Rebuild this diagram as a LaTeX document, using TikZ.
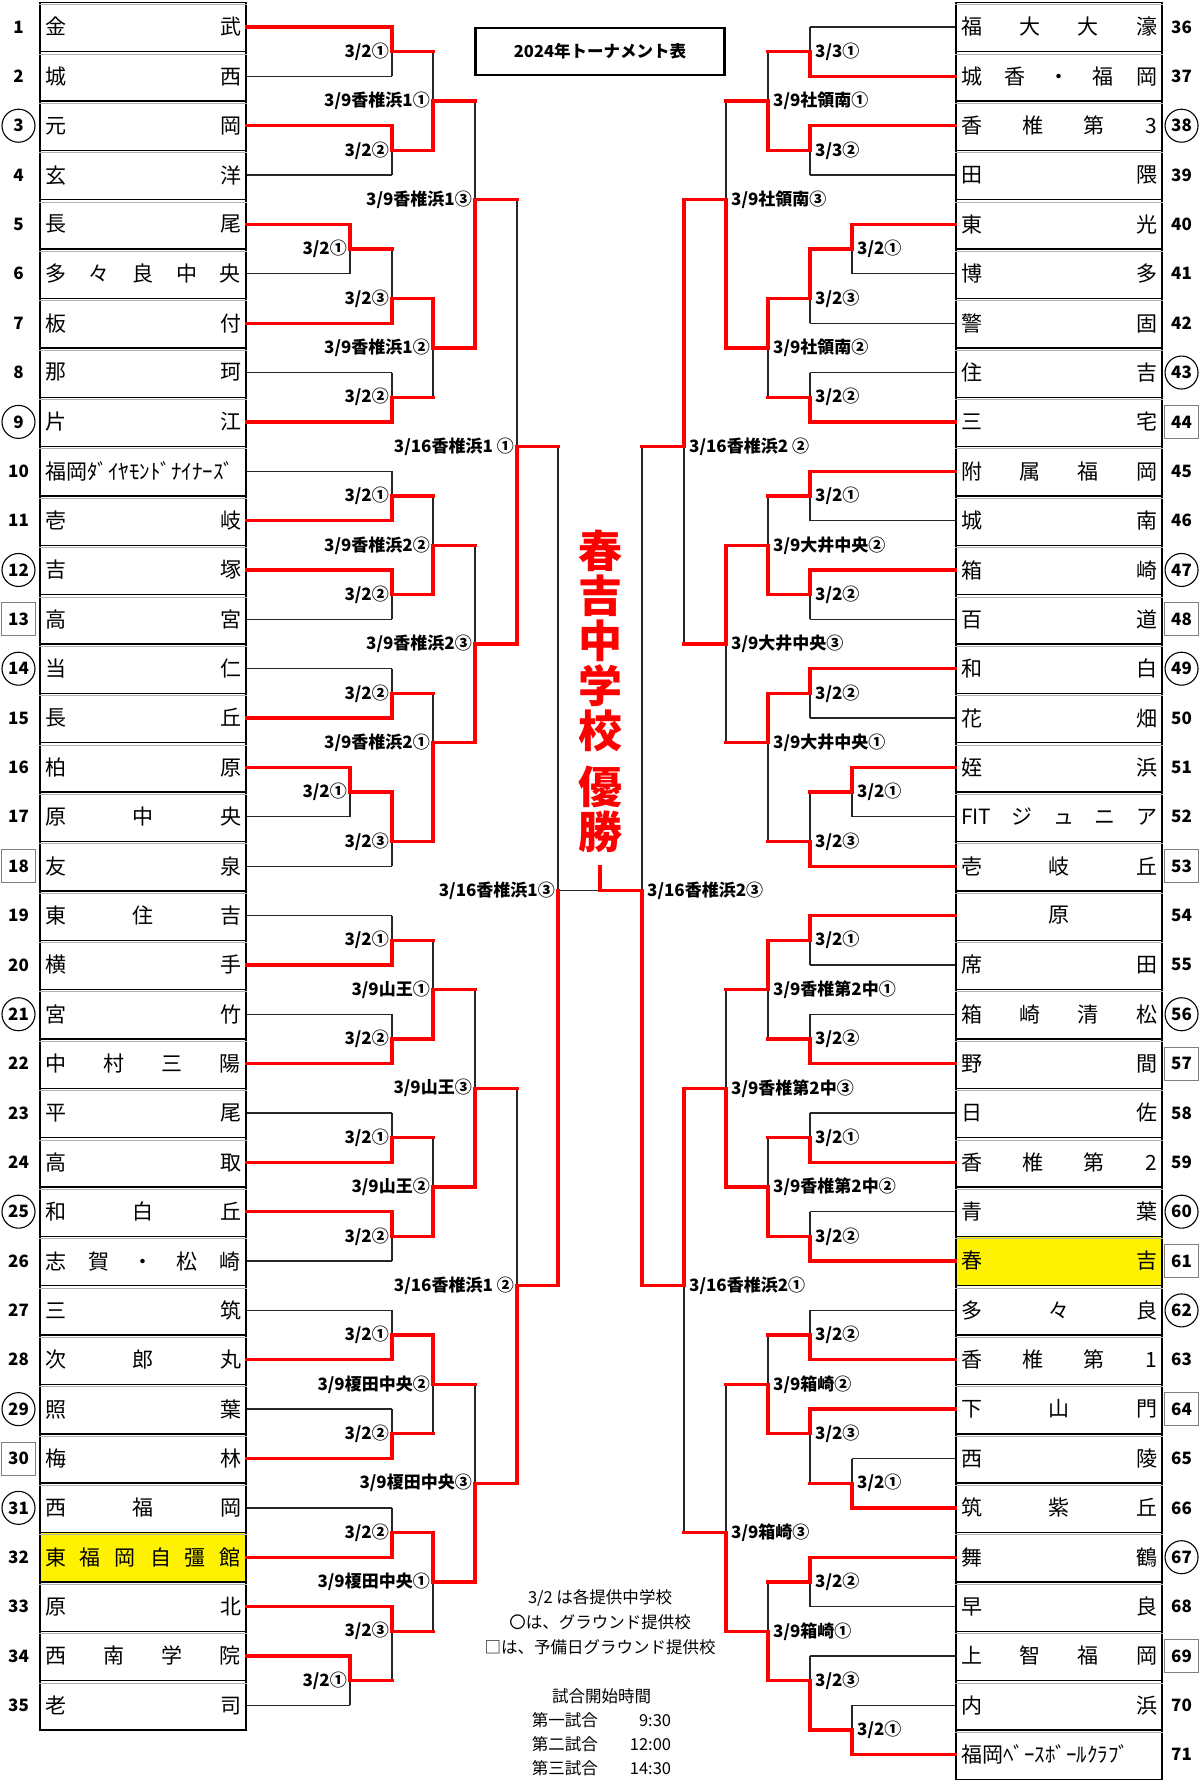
\documentclass[tikz,border=0pt]{standalone}
\usepackage{fontspec}
\setmainfont{Noto Sans CJK JP}
\pgfdeclarelayer{front}
\pgfsetlayers{main,front}

% spread the characters of a team name over the cell
\def\teamstop{\teamstop}
\def\teamstopmark{\teamstop}
\def\teamspread#1{#1\teamspreadnext}
\def\teamspreadnext#1{\def\teamtmp{#1}\ifx\teamtmp\teamstopmark\else\hfill#1\expandafter\teamspreadnext\fi}
\newcommand\teamfit{FIT}

\tikzset{
  team/.style={draw, line width=1.4pt, minimum width=206pt, minimum height=49.36pt, inner sep=0pt, font=\fontsize{21}{21}\selectfont},
  rowln/.style={gray!60, line width=0.8pt},
  nump/.style={font=\bfseries\fontsize{17}{17}\selectfont, inner sep=0pt},
  numc/.style={nump, draw, circle, line width=1.1pt, minimum size=33pt},
  numb/.style={nump, draw=gray, rectangle, line width=0.9pt, minimum width=34pt, minimum height=33pt},
  thinln/.style={line width=1.3pt, black!85},
  redln/.style={line width=3.3pt, red, line cap=rect},
  ll/.style={anchor=east, xshift=-3pt, inner sep=0pt, font=\bfseries\fontsize{17}{17}\selectfont},
  rl/.style={anchor=west, xshift=5pt, inner sep=0pt, font=\bfseries\fontsize{17}{17}\selectfont},
  titlebox/.style={draw, line width=2.6pt, minimum width=249pt, minimum height=47pt, font=\bfseries\fontsize{16.5}{16.5}\selectfont},
  winnertext/.style={anchor=north, align=center, inner sep=0pt, text=red, font=\bfseries\fontsize{44}{45}\selectfont},
  note/.style={align=center, inner sep=0pt, font=\fontsize{16.5}{25}\selectfont},
}

% #1 label style, #2 name, #3 x, #4 half row, #5 winner, #6 loser, #7 loser line, #8 label
\newcommand\game[8]{%
  \coordinate (#2) at (#3,#4);
  \draw[thinln] (#6 -| #2) -- (#2);
  \begin{pgfonlayer}{front}
    \draw[#7] (#6) -- (#6 -| #2);
    \draw[redln] (#5) -| (#2);
  \end{pgfonlayer}
  \node[#1] (#2-lbl) at (#2) {#8};
}

\begin{document}
\begin{tikzpicture}[x=1pt,y=-24.68pt]
\useasboundingbox (0,-1.094) rectangle (1200,71.27);

% left teams
\foreach \n/\nm/\mk/\fl [count=\i from 0] in {
  1/金武/p/white, 2/城西/p/white, 3/元岡/c/white, 4/玄洋/p/white,
  5/長尾/p/white, 6/多々良中央/p/white, 7/板付/p/white, 8/那珂/p/white,
  9/片江/c/white, 10/{{福岡ﾀﾞｲﾔﾓﾝﾄﾞﾅｲﾅｰｽﾞ}}/p/white, 11/壱岐/p/white,
  12/吉塚/c/white, 13/高宮/b/white, 14/当仁/c/white, 15/長丘/p/white,
  16/柏原/p/white, 17/原中央/p/white, 18/友泉/b/white, 19/東住吉/p/white,
  20/横手/p/white, 21/宮竹/c/white, 22/中村三陽/p/white, 23/平尾/p/white,
  24/高取/p/white, 25/和白丘/c/white, 26/志賀・松崎/p/white, 27/三筑/p/white,
  28/次郎丸/p/white, 29/照葉/c/white, 30/梅林/b/white, 31/西福岡/c/white,
  32/東福岡自彊館/p/yellow, 33/原北/p/white, 34/西南学院/p/white, 35/老司/p/white}
{
  \node[team, fill=\fl] (t\n) at (143,2*\i) {\hbox to 196pt{\expandafter\teamspread\nm\teamstop\hfil}};
  \draw[rowln] ([yshift=-3pt]t\n.north west) -- ([yshift=-3pt]t\n.north east);
  \node[num\mk] (no\n) at (18.5,2*\i) {\n};
}

% right teams
\foreach \n/\nm/\mk/\fl [count=\i from 0] in {
  36/福大大濠/p/white, 37/城香・福岡/p/white, 38/香椎第3/c/white, 39/田隈/p/white,
  40/東光/p/white, 41/博多/p/white, 42/警固/p/white, 43/住吉/c/white,
  44/三宅/b/white, 45/附属福岡/p/white, 46/城南/p/white, 47/箱崎/c/white,
  48/百道/b/white, 49/和白/c/white, 50/花畑/p/white, 51/姪浜/p/white,
  52/\teamfit ジュニア/p/white, 53/壱岐丘/b/white, 54/{{\hfill 原\hfill}}/p/white,
  55/席田/p/white, 56/箱崎清松/c/white, 57/野間/b/white, 58/日佐/p/white,
  59/香椎第2/p/white, 60/青葉/c/white, 61/春吉/b/yellow, 62/多々良/c/white,
  63/香椎第1/p/white, 64/下山門/b/white, 65/西陵/p/white, 66/筑紫丘/p/white,
  67/舞鶴/c/white, 68/早良/p/white, 69/上智福岡/b/white, 70/内浜/p/white,
  71/{{福岡ﾍﾞｰｽﾎﾞｰﾙｸﾗﾌﾞ}}/p/white}
{
  \node[team, fill=\fl] (t\n) at (1059,2*\i) {\hbox to 196pt{\expandafter\teamspread\nm\teamstop\hfil}};
  \draw[rowln] ([yshift=-3pt]t\n.north west) -- ([yshift=-3pt]t\n.north east);
  \node[num\mk] (no\n) at (1181.5,2*\i) {\n};
}

\node[titlebox] (title) at (600,1) {2024年トーナメント表};

% left half
\game{ll}{L1}{392}{1}{t1.east}{t2.east}{thinln}{3/2①}
\game{ll}{L2}{392}{5}{t3.east}{t4.east}{thinln}{3/2②}
\game{ll}{L3}{433}{3}{L2}{L1}{redln}{3/9香椎浜1①}
\game{ll}{L4}{350}{9}{t5.east}{t6.east}{thinln}{3/2①}
\game{ll}{L5}{392}{11}{t7.east}{L4}{redln}{3/2③}
\game{ll}{L6}{392}{15}{t9.east}{t8.east}{thinln}{3/2②}
\game{ll}{L7}{433}{13}{L5}{L6}{redln}{3/9香椎浜1②}
\game{ll}{L8}{475}{7}{L7}{L3}{redln}{3/9香椎浜1③}
\game{ll}{L9}{392}{19}{t11.east}{t10.east}{thinln}{3/2①}
\game{ll}{L10}{392}{23}{t12.east}{t13.east}{thinln}{3/2②}
\game{ll}{L11}{433}{21}{L10}{L9}{redln}{3/9香椎浜2②}
\game{ll}{L12}{392}{27}{t15.east}{t14.east}{thinln}{3/2②}
\game{ll}{L13}{350}{31}{t16.east}{t17.east}{thinln}{3/2①}
\game{ll}{L14}{392}{33}{L13}{t18.east}{thinln}{3/2③}
\game{ll}{L15}{433}{29}{L14}{L12}{redln}{3/9香椎浜2①}
\game{ll}{L16}{475}{25}{L15}{L11}{redln}{3/9香椎浜2③}
\game{ll}{L17}{517}{17}{L16}{L8}{redln}{3/16香椎浜1 ①}
\game{ll}{L18}{392}{37}{t20.east}{t19.east}{thinln}{3/2①}
\game{ll}{L19}{392}{41}{t22.east}{t21.east}{thinln}{3/2②}
\game{ll}{L20}{433}{39}{L19}{L18}{redln}{3/9山王①}
\game{ll}{L21}{392}{45}{t24.east}{t23.east}{thinln}{3/2①}
\game{ll}{L22}{392}{49}{t25.east}{t26.east}{thinln}{3/2②}
\game{ll}{L23}{433}{47}{L22}{L21}{redln}{3/9山王②}
\game{ll}{L24}{475}{43}{L23}{L20}{redln}{3/9山王③}
\game{ll}{L25}{392}{53}{t28.east}{t27.east}{thinln}{3/2①}
\game{ll}{L26}{392}{57}{t30.east}{t29.east}{thinln}{3/2②}
\game{ll}{L27}{433}{55}{L25}{L26}{redln}{3/9榎田中央②}
\game{ll}{L28}{392}{61}{t32.east}{t31.east}{thinln}{3/2②}
\game{ll}{L29}{350}{67}{t34.east}{t35.east}{thinln}{3/2①}
\game{ll}{L30}{392}{65}{t33.east}{L29}{redln}{3/2③}
\game{ll}{L31}{433}{63}{L28}{L30}{redln}{3/9榎田中央①}
\game{ll}{L32}{475}{59}{L31}{L27}{redln}{3/9榎田中央③}
\game{ll}{L33}{517}{51}{L32}{L24}{redln}{3/16香椎浜1 ②}
\game{ll}{LF}{558}{35}{L33}{L17}{redln}{3/16香椎浜1③}

% right half
\game{rl}{R1}{810}{1}{t37.west}{t36.west}{thinln}{3/3①}
\game{rl}{R2}{810}{5}{t38.west}{t39.west}{thinln}{3/3②}
\game{rl}{R3}{768}{3}{R2}{R1}{redln}{3/9社領南①}
\game{rl}{R4}{852}{9}{t40.west}{t41.west}{thinln}{3/2①}
\game{rl}{R5}{810}{11}{R4}{t42.west}{thinln}{3/2③}
\game{rl}{R6}{810}{15}{t44.west}{t43.west}{thinln}{3/2②}
\game{rl}{R7}{768}{13}{R5}{R6}{redln}{3/9社領南②}
\game{rl}{R8}{726}{7}{R7}{R3}{redln}{3/9社領南③}
\game{rl}{R9}{810}{19}{t45.west}{t46.west}{thinln}{3/2①}
\game{rl}{R10}{810}{23}{t47.west}{t48.west}{thinln}{3/2②}
\game{rl}{R11}{768}{21}{R10}{R9}{redln}{3/9大井中央②}
\game{rl}{R12}{810}{27}{t49.west}{t50.west}{thinln}{3/2②}
\game{rl}{R13}{852}{31}{t51.west}{t52.west}{thinln}{3/2①}
\game{rl}{R14}{810}{33}{t53.west}{R13}{redln}{3/2③}
\game{rl}{R15}{768}{29}{R12}{R14}{redln}{3/9大井中央①}
\game{rl}{R16}{726}{25}{R11}{R15}{redln}{3/9大井中央③}
\game{rl}{R17}{684}{17}{R8}{R16}{redln}{3/16香椎浜2 ②}
\game{rl}{R18}{810}{37}{t54.west}{t55.west}{thinln}{3/2①}
\game{rl}{R19}{810}{41}{t57.west}{t56.west}{thinln}{3/2②}
\game{rl}{R20}{768}{39}{R18}{R19}{redln}{3/9香椎第2中①}
\game{rl}{R21}{810}{45}{t59.west}{t58.west}{thinln}{3/2①}
\game{rl}{R22}{810}{49}{t61.west}{t60.west}{thinln}{3/2②}
\game{rl}{R23}{768}{47}{R22}{R21}{redln}{3/9香椎第2中②}
\game{rl}{R24}{726}{43}{R23}{R20}{redln}{3/9香椎第2中③}
\game{rl}{R25}{810}{53}{t63.west}{t62.west}{thinln}{3/2②}
\game{rl}{R26}{852}{59}{t66.west}{t65.west}{thinln}{3/2①}
\game{rl}{R27}{810}{57}{t64.west}{R26}{redln}{3/2③}
\game{rl}{R28}{768}{55}{R27}{R25}{redln}{3/9箱崎②}
\game{rl}{R29}{810}{63}{t67.west}{t68.west}{thinln}{3/2②}
\game{rl}{R30}{852}{69}{t71.west}{t70.west}{thinln}{3/2①}
\game{rl}{R31}{810}{67}{R30}{t69.west}{thinln}{3/2③}
\game{rl}{R32}{768}{65}{R31}{R29}{redln}{3/9箱崎①}
\game{rl}{R33}{726}{61}{R32}{R28}{redln}{3/9箱崎③}
\game{rl}{R34}{684}{51}{R24}{R33}{redln}{3/16香椎浜2①}
\game{rl}{RF}{642}{35}{R34}{R17}{redln}{3/16香椎浜2③}

% final
\coordinate (champ) at (600,35);
\coordinate (champtop) at (600,34);
\draw[thinln] (LF) -- (champ);
\begin{pgfonlayer}{front}
  \draw[redln] (RF) -- (champ) -- (champtop);
\end{pgfonlayer}
\node[winnertext] (winner) at (600,20.38) {春\\吉\\中\\学\\校\\[11pt]優\\勝};

% notes
\node[note] (rules) at (600,64.62) {3/2 は各提供中学校\\〇は、グラウンド提供校\\□は、予備日グラウンド提供校};
\node[note] (times) at (601.5,69.14) {\fontsize{16.5}{24}\selectfont
  \begin{tabular}{@{}l@{\hspace{32pt}}r@{}}
    \multicolumn{2}{c}{試合開始時間}\\
    第一試合 & 9:30\\
    第二試合 & 12:00\\
    第三試合 & 14:30
  \end{tabular}};
\end{tikzpicture}
\end{document}
